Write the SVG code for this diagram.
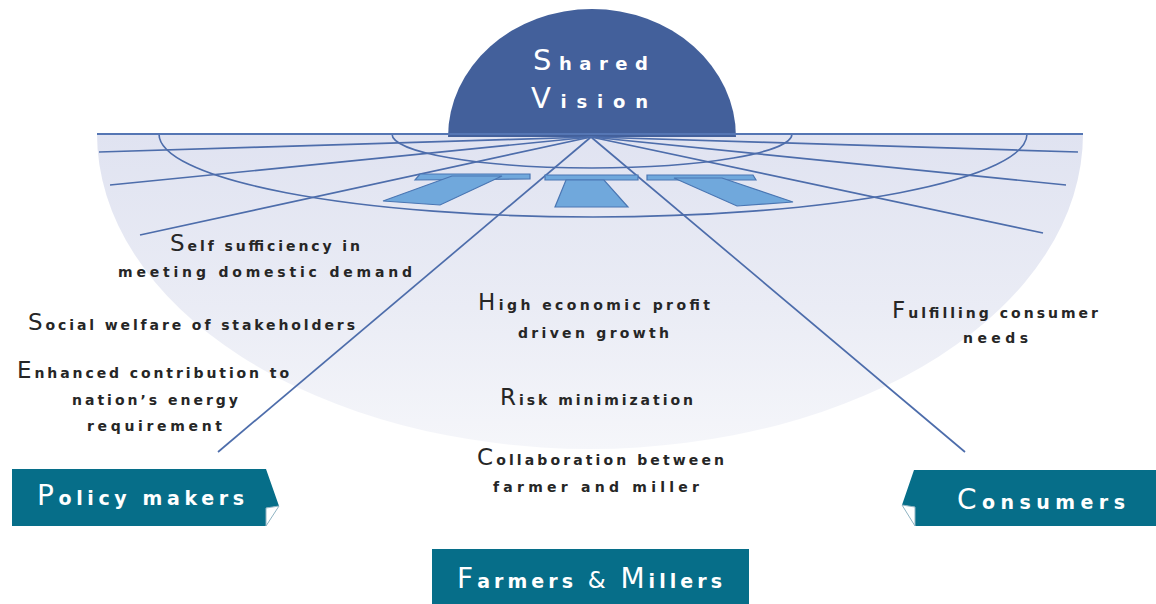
<svg xmlns="http://www.w3.org/2000/svg" width="1156" height="604" viewBox="0 0 1156 604">
  <defs>
    <linearGradient id="fanFill" x1="0" y1="0" x2="0" y2="1">
      <stop offset="0" stop-color="#e0e3f1"/>
      <stop offset="0.55" stop-color="#eaecf5"/>
      <stop offset="1" stop-color="#f5f6fa"/>
    </linearGradient>
    <filter id="soft" x="-10%" y="-10%" width="120%" height="120%">
      <feGaussianBlur stdDeviation="0.5"/>
    </filter>
  </defs>
  <style>
    .ray { stroke: #4d6dab; stroke-width: 1.7; fill: none; }
    .arc { stroke: #4d6dab; stroke-width: 1.6; fill: none; }
    .arrow { fill: #70a8dc; stroke: #4a76b3; stroke-width: 1.2; }
    .txt { font-family: "DejaVu Sans", sans-serif; font-weight: bold; font-size: 14px; fill: #262626; }
    .txt .cap { font-weight: normal; font-size: 23px; }
    .box { fill: #066e89; }
    .fold { fill: #ffffff; stroke: #8fb3c2; stroke-width: 1; }
    .label { font-family: "DejaVu Sans", sans-serif; font-weight: bold; font-size: 19px; fill: #ffffff; }
    .label .cap { font-weight: normal; font-size: 28px; }
    .vision { font-family: "DejaVu Sans", sans-serif; font-weight: bold; font-size: 18px; fill: #ffffff; }
    .vision .cap { font-weight: normal; font-size: 29px; }
  </style>

  <rect width="1156" height="604" fill="#ffffff"/>

  <!-- perspective floor -->
  <g id="floor">
    <path d="M97,134 A493,315 0 0 0 1083,134 Z" fill="url(#fanFill)"/>
  </g>

  <!-- dome -->
  <g id="shared-vision">
    <path d="M448,137 A144,128 0 0 1 736,137 Z" fill="#43609b"/>
    <text class="vision" x="533" y="70" textLength="115" lengthAdjust="spacing"><tspan class="cap">S</tspan>hared</text>
    <text class="vision" x="531" y="108" textLength="117" lengthAdjust="spacing"><tspan class="cap">V</tspan>ision</text>
  </g>

  <!-- grid lines, arcs and arrows on the floor -->
  <g id="connectors" filter="url(#soft)">
    <path class="arc" d="M392,134 A200,34 0 0 0 792,134"/>
    <path class="arc" d="M159,134 A434,83 0 0 0 1027,134"/>
    <line class="ray" x1="591" y1="137" x2="99" y2="152"/>
    <line class="ray" x1="591" y1="137" x2="110" y2="185"/>
    <line class="ray" x1="591" y1="137" x2="140" y2="235"/>
    <line class="ray" x1="591" y1="137" x2="218" y2="452"/>
    <line class="ray" x1="591" y1="137" x2="1078" y2="152"/>
    <line class="ray" x1="591" y1="137" x2="1066" y2="185"/>
    <line class="ray" x1="591" y1="137" x2="1043" y2="233"/>
    <line class="ray" x1="591" y1="137" x2="965" y2="452"/>
    <line x1="97" y1="134" x2="1083" y2="134" stroke="#5576b4" stroke-width="2.2"/>

    <!-- arrows -->
    <polygon class="arrow" points="420,174 530,174 530,179 415,180"/>
    <polygon class="arrow" points="452,176 502,176 440,205 383,201"/>
    <polygon class="arrow" points="545,175 638,175 638,180 545,180"/>
    <polygon class="arrow" points="566,180 604,180 628,207 555,207"/>
    <polygon class="arrow" points="647,175 753,175 756,180 647,180"/>
    <polygon class="arrow" points="674,178 722,178 793,202 737,206"/>
  </g>

  <!-- goals -->
  <g id="policy-goals">
    <text class="txt" x="170" y="251" textLength="190" lengthAdjust="spacing"><tspan class="cap">S</tspan>elf sufficiency in</text>
    <text class="txt" x="118" y="277" textLength="294" lengthAdjust="spacing">meeting domestic demand</text>
    <text class="txt" x="28" y="330" textLength="327" lengthAdjust="spacing"><tspan class="cap">S</tspan>ocial welfare of stakeholders</text>
    <text class="txt" x="17" y="378" textLength="272" lengthAdjust="spacing"><tspan class="cap">E</tspan>nhanced contribution to</text>
    <text class="txt" x="72" y="405" textLength="166" lengthAdjust="spacing">nation’s energy</text>
    <text class="txt" x="87" y="431" textLength="135" lengthAdjust="spacing">requirement</text>
  </g>

  <g id="farmer-goals">
    <text class="txt" x="478" y="310" textLength="232" lengthAdjust="spacing"><tspan class="cap">H</tspan>igh economic profit</text>
    <text class="txt" x="518" y="338" textLength="151" lengthAdjust="spacing">driven growth</text>
    <text class="txt" x="500" y="405" textLength="193" lengthAdjust="spacing"><tspan class="cap">R</tspan>isk minimization</text>
    <text class="txt" x="477" y="465" textLength="247" lengthAdjust="spacing"><tspan class="cap">C</tspan>ollaboration between</text>
    <text class="txt" x="493" y="492" textLength="206" lengthAdjust="spacing">farmer and miller</text>
  </g>

  <g id="consumer-goals">
    <text class="txt" x="892" y="318" textLength="206" lengthAdjust="spacing"><tspan class="cap">F</tspan>ulfilling consumer</text>
    <text class="txt" x="963" y="343" textLength="65" lengthAdjust="spacing">needs</text>
  </g>

  <!-- stakeholder tags -->
  <g id="policy-makers">
    <polygon class="box" points="12,469 266,469 279,506 266,508 266,526 12,526"/>
    <polygon class="fold" points="266,508 279,506 266,526"/>
    <text class="label" x="37" y="505" textLength="207" lengthAdjust="spacing"><tspan class="cap">P</tspan>olicy makers</text>
  </g>

  <g id="consumers">
    <polygon class="box" points="914,470 1156,470 1156,526 915,526 915,507 902,505"/>
    <polygon class="fold" points="902,505 915,507 915,526"/>
    <text class="label" x="957" y="509" textLength="168" lengthAdjust="spacing"><tspan class="cap">C</tspan>onsumers</text>
  </g>

  <g id="farmers-millers">
    <rect class="box" x="432" y="549" width="317" height="60"/>
    <text class="label" x="457" y="588" textLength="265" lengthAdjust="spacing"><tspan class="cap">F</tspan>armers <tspan font-size="23" font-weight="normal">&amp;</tspan> <tspan class="cap">M</tspan>illers</text>
  </g>
</svg>
